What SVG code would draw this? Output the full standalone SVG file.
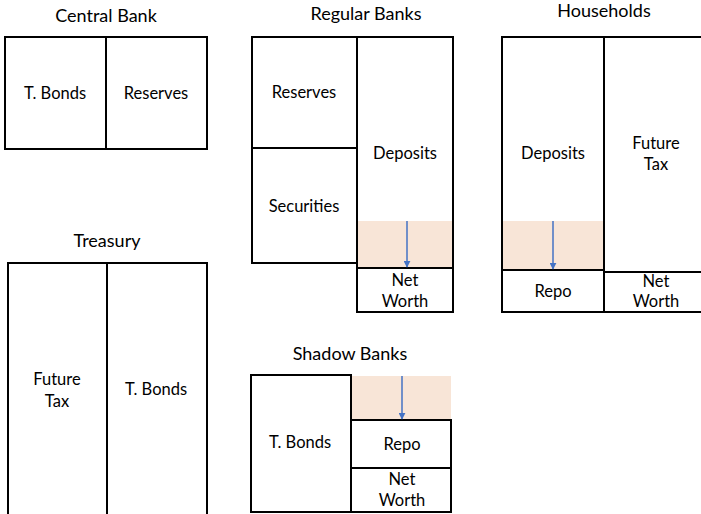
<svg xmlns="http://www.w3.org/2000/svg" width="701" height="514" viewBox="0 0 701 514">
<style>
.box{fill:none;stroke:#000;stroke-width:2}
.shade{fill:#f8e5d7;stroke:none}
.t{font-family:Lato,"Open Sans",sans-serif;font-size:16.5px;fill:#000;text-anchor:middle;dominant-baseline:central}
.h{font-family:Lato,"Open Sans",sans-serif;font-size:18px;fill:#000;text-anchor:middle}
.arr{stroke:#4472c4;stroke-width:1.5;fill:none}
</style>
<defs>
<marker id="ah" viewBox="0 0 10 10" refX="9" refY="5" markerWidth="7" markerHeight="7" markerUnits="userSpaceOnUse" orient="auto">
<path d="M0,0 L10,5 L0,10 z" fill="#4472c4"/>
</marker>
</defs>
<rect x="0" y="0" width="701" height="514" fill="#fff"/>
<g id="central-bank">
<text class="h" x="106" y="22">Central Bank</text>
<rect class="box" x="5" y="37" width="202" height="112"/>
<line class="box" x1="106" y1="37" x2="106" y2="149"/>
<text class="t" x="55" y="93">T. Bonds</text>
<text class="t" x="156" y="93">Reserves</text>
</g>
<g id="regular-banks">
<text class="h" x="366" y="20">Regular Banks</text>
<rect class="shade" x="358" y="221" width="95" height="47"/>
<rect class="box" x="252" y="37" width="105" height="226"/>
<line class="box" x1="252" y1="148" x2="357" y2="148"/>
<rect class="box" x="357" y="37" width="96" height="275"/>
<line class="box" x1="357" y1="268" x2="453" y2="268"/>
<text class="t" x="304" y="92">Reserves</text>
<text class="t" x="304" y="206">Securities</text>
<text class="t" x="405" y="153">Deposits</text>
<text class="t" x="405" y="280">Net</text>
<text class="t" x="405" y="301">Worth</text>
</g>
<g id="households">
<text class="h" x="604" y="17">Households</text>
<rect class="shade" x="503" y="221" width="101" height="49"/>
<rect class="box" x="502" y="37" width="102" height="275"/>
<line class="box" x1="502" y1="270" x2="604" y2="270"/>
<rect class="box" x="604" y="37" width="104" height="275"/>
<line class="box" x1="604" y1="272" x2="708" y2="272"/>
<text class="t" x="553" y="153">Deposits</text>
<text class="t" x="656" y="143">Future</text>
<text class="t" x="656" y="164">Tax</text>
<text class="t" x="553" y="291">Repo</text>
<text class="t" x="656" y="281">Net</text>
<text class="t" x="656" y="301">Worth</text>
</g>
<g id="treasury">
<text class="h" x="107" y="247">Treasury</text>
<rect class="box" x="8" y="263" width="199" height="260"/>
<line class="box" x1="107" y1="263" x2="107" y2="520"/>
<text class="t" x="57" y="379">Future</text>
<text class="t" x="57" y="401">Tax</text>
<text class="t" x="156" y="389">T. Bonds</text>
</g>
<g id="shadow-banks">
<text class="h" x="350" y="360">Shadow Banks</text>
<rect class="shade" x="351" y="376" width="100" height="44"/>
<rect class="box" x="251" y="375" width="100" height="137"/>
<rect class="box" x="351" y="420" width="100" height="92"/>
<line class="box" x1="351" y1="468" x2="451" y2="468"/>
<text class="t" x="300" y="442">T.  Bonds</text>
<text class="t" x="402" y="444">Repo</text>
<text class="t" x="402" y="479">Net</text>
<text class="t" x="402" y="500">Worth</text>
</g>
<g id="connectors">
<line class="arr" x1="407" y1="221" x2="407" y2="267" marker-end="url(#ah)"/>
<line class="arr" x1="553" y1="221" x2="553" y2="269" marker-end="url(#ah)"/>
<line class="arr" x1="402" y1="376" x2="402" y2="419" marker-end="url(#ah)"/>
</g>
</svg>
